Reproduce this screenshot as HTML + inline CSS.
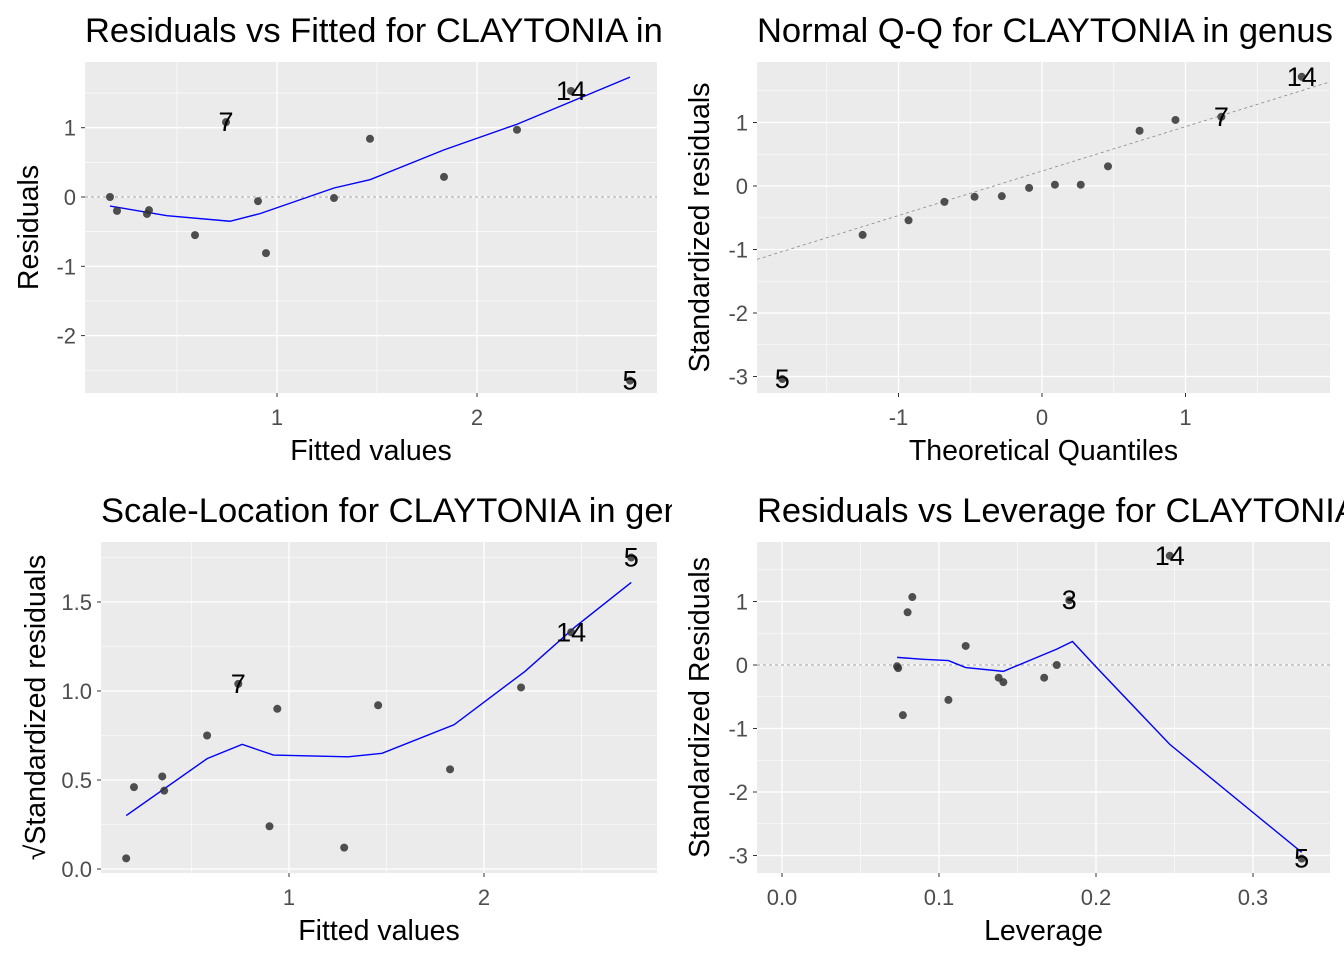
<!DOCTYPE html>
<html><head><meta charset="utf-8"><style>
html,body{margin:0;padding:0;background:#fff;}
svg{display:block;font-family:"Liberation Sans",sans-serif;}
</style></head><body>
<svg id="c" width="1344" height="960" viewBox="0 0 1344 960">
<defs>
<clipPath id="cl0"><rect x="0" y="0" width="672" height="480"/></clipPath>
<clipPath id="cl1"><rect x="672" y="0" width="672" height="480"/></clipPath>
<clipPath id="cl2"><rect x="0" y="480" width="672" height="480"/></clipPath>
<clipPath id="cl3"><rect x="672" y="480" width="672" height="480"/></clipPath>
</defs>
</svg>
<script>
// Panel 1: Residuals vs Fitted
const rvfFitted = [0.165,0.2,0.35,0.36,0.59,0.745,0.905,0.945,1.285,1.465,1.835,2.2,2.47,2.765];
const rvfResid = [0,-0.2,-0.245,-0.19,-0.55,1.08,-0.06,-0.81,-0.015,0.84,0.29,0.97,1.53,-2.65];
const rvfSmoothX = [0.165,0.45,0.765,0.915,1.285,1.465,1.835,2.2,2.765];
const rvfSmoothY = [-0.13,-0.27,-0.35,-0.24,0.13,0.25,0.68,1.05,1.73];
const rvfLabels = [[5,'7'],[12,'14'],[13,'5']];
// Panel 2: Normal Q-Q
const qqTheo = [-1.81,-1.25,-0.93,-0.68,-0.47,-0.28,-0.09,0.09,0.27,0.46,0.68,0.93,1.25,1.81];
const qqStd = [-3.04,-0.77,-0.54,-0.25,-0.17,-0.16,-0.03,0.02,0.02,0.31,0.87,1.04,1.09,1.72];
const qqLineSlope = 0.70, qqLineIntercept = 0.235;
const qqLabels = [[0,'5'],[12,'7'],[13,'14']];
// Panel 3: Scale-Location
const slFitted = [0.165,0.205,0.35,0.36,0.58,0.74,0.9,0.94,1.283,1.457,1.826,2.19,2.447,2.755];
const slSqrt = [0.06,0.46,0.52,0.44,0.75,1.04,0.24,0.90,0.12,0.92,0.56,1.02,1.33,1.75];
const slSmoothX = [0.165,0.58,0.76,0.92,1.303,1.477,1.846,2.21,2.467,2.755];
const slSmoothY = [0.30,0.62,0.70,0.64,0.63,0.65,0.81,1.11,1.36,1.61];
const slLabels = [[5,'7'],[12,'14'],[13,'5']];
// Panel 4: Residuals vs Leverage
const rlLev = [0.0733,0.074,0.077,0.080,0.083,0.106,0.117,0.138,0.141,0.167,0.175,0.183,0.247,0.331];
const rlStd = [-0.02,-0.05,-0.79,0.83,1.07,-0.55,0.30,-0.20,-0.27,-0.20,0.0,1.02,1.72,-3.05];
const rlSmoothX = [0.0733,0.09,0.106,0.117,0.141,0.175,0.185,0.2,0.247,0.331];
const rlSmoothY = [0.12,0.09,0.07,-0.04,-0.10,0.25,0.37,-0.03,-1.25,-2.95];
const rlLabels = [[11,'3'],[12,'14'],[13,'5']];

const NS='http://www.w3.org/2000/svg';
const svg=document.getElementById('c');
function mk(tag,attrs,parent){const e=document.createElementNS(NS,tag);for(const k in attrs)e.setAttribute(k,attrs[k]);(parent||svg).appendChild(e);return e;}

function panel(o){
  const g=mk('g',{'clip-path':'url(#'+o.clip+')'});
  
  
  const sx=v=>o.px0+(v-o.xv0)*o.kx, sy=v=>o.py0-(v-o.yv0)*o.ky;
  const bg=mk('rect',{x:o.L,y:o.T,width:o.R-o.L,height:o.B-o.T,fill:'#ebebeb'},g);
  
  
  o.xminor.forEach(v=>mk('line',{x1:sx(v),x2:sx(v),y1:o.T,y2:o.B,stroke:'#fff','stroke-width':0.6},g));
  o.yminor.forEach(v=>mk('line',{x1:o.L,x2:o.R,y1:sy(v),y2:sy(v),stroke:'#fff','stroke-width':0.6},g));
  o.xt.forEach(v=>mk('line',{x1:sx(v),x2:sx(v),y1:o.T,y2:o.B,stroke:'#fff','stroke-width':1.3},g));
  o.yt.forEach(v=>mk('line',{x1:o.L,x2:o.R,y1:sy(v),y2:sy(v),stroke:'#fff','stroke-width':1.3},g));
  o.xt.forEach((v,i)=>{mk('line',{x1:sx(v),x2:sx(v),y1:o.B,y2:o.B+4,stroke:'#333','stroke-width':1},g);
    const t=mk('text',{x:sx(v),y:o.B+32,'text-anchor':'middle','font-size':22,fill:'#4d4d4d'},g);t.textContent=o.xtl[i];
    
    });
  o.yt.forEach((v,i)=>{mk('line',{x1:o.L-4,x2:o.L,y1:sy(v),y2:sy(v),stroke:'#333','stroke-width':1},g);
    const t=mk('text',{x:o.L-9,y:sy(v)+8,'text-anchor':'end','font-size':22,fill:'#4d4d4d'},g);t.textContent=o.ytl[i];
    
    });
  const pg=mk('g',{'clip-path':'url(#'+o.clip+')'},g);
  if(o.hline!==undefined) mk('line',{x1:o.L,x2:o.R,y1:sy(o.hline),y2:sy(o.hline),stroke:'#888','stroke-width':0.8,'stroke-dasharray':'3,3'},pg);
  if(o.abline){const [a,b]=o.abline;const x0=(o.L-o.px0)/o.kx+o.xv0,x1=(o.R-o.px0)/o.kx+o.xv0;
    mk('line',{x1:o.L,x2:o.R,y1:sy(a+b*x0),y2:sy(a+b*x1),stroke:'#888','stroke-width':0.8,'stroke-dasharray':'3,3'},pg);}
  if(o.sx){const d=o.sx.map((v,i)=>(i?'L':'M')+sx(v)+','+sy(o.sy[i])).join('');
    const p=mk('path',{d:d,fill:'none',stroke:'#0000ff','stroke-width':1.4},pg);
    
    }
  o.x.forEach((v,i)=>{const c=mk('circle',{cx:sx(v),cy:sy(o.y[i]),r:4,fill:'#333','fill-opacity':0.85},pg);
    
    });
  o.lab.forEach(([i,s])=>{const t=mk('text',{x:sx(o.x[i]),y:sy(o.y[i])+9,'text-anchor':'middle','font-size':27,fill:'#000'},pg);t.textContent=s;
    
    });
  const tt=mk('text',{x:o.L,y:o.T-20,'font-size':34.5,fill:'#000'},g);tt.textContent=o.title;
  
  
  const xl=mk('text',{x:(o.L+o.R)/2,y:o.B+67,'text-anchor':'middle','font-size':28.5,fill:'#000'},g);xl.textContent=o.xlab;
  
  
  const yc=(o.T+o.B)/2;
  const yl=mk('text',{x:o.ylx,y:yc,'text-anchor':'middle','font-size':28.5,fill:'#000',transform:'rotate(-90 '+o.ylx+' '+yc+')'},g);yl.textContent=o.ylab;
  
  
}

panel({name:'residuals-vs-fitted',clip:'cl0',L:85,R:657,T:62,B:393,px0:277,xv0:1,kx:200,py0:197,yv0:0,ky:69.3,
 xt:[1,2],xtl:['1','2'],yt:[1,0,-1,-2],ytl:['1','0','-1','-2'],xminor:[0.5,1.5,2.5],yminor:[1.5,0.5,-0.5,-1.5,-2.5],
 hline:0,sx:rvfSmoothX,sy:rvfSmoothY,x:rvfFitted,y:rvfResid,lab:rvfLabels,
 title:'Residuals vs Fitted for CLAYTONIA in genus',xlab:'Fitted values',ylab:'Residuals',ylx:38});
panel({name:'normal-qq',clip:'cl1',L:757,R:1330,T:62,B:393,px0:1042,xv0:0,kx:143.5,py0:186,yv0:0,ky:63.5,
 xt:[-1,0,1],xtl:['-1','0','1'],yt:[1,0,-1,-2,-3],ytl:['1','0','-1','-2','-3'],xminor:[-1.5,-0.5,0.5,1.5],yminor:[1.5,0.5,-0.5,-1.5,-2.5],
 abline:[qqLineIntercept,qqLineSlope],x:qqTheo,y:qqStd,lab:qqLabels,
 title:'Normal Q-Q for CLAYTONIA in genus',xlab:'Theoretical Quantiles',ylab:'Standardized residuals',ylx:709});
panel({name:'scale-location',clip:'cl2',L:101,R:657,T:542,B:873,px0:289,xv0:1,kx:195,py0:869,yv0:0,ky:178,
 xt:[1,2],xtl:['1','2'],yt:[0,0.5,1,1.5],ytl:['0.0','0.5','1.0','1.5'],xminor:[0.5,1.5,2.5],yminor:[0.25,0.75,1.25,1.75],
 sx:slSmoothX,sy:slSmoothY,x:slFitted,y:slSqrt,lab:slLabels,
 title:'Scale-Location for CLAYTONIA in genus',xlab:'Fitted values',ylab:'√Standardized residuals',ylx:45});
panel({name:'residuals-vs-leverage',clip:'cl3',L:757,R:1330,T:542,B:873,px0:782,xv0:0,kx:1570,py0:665,yv0:0,ky:63.5,
 xt:[0,0.1,0.2,0.3],xtl:['0.0','0.1','0.2','0.3'],yt:[1,0,-1,-2,-3],ytl:['1','0','-1','-2','-3'],xminor:[0.05,0.15,0.25],yminor:[1.5,0.5,-0.5,-1.5,-2.5],
 hline:0,sx:rlSmoothX,sy:rlSmoothY,x:rlLev,y:rlStd,lab:rlLabels,
 title:'Residuals vs Leverage for CLAYTONIA in genus',xlab:'Leverage',ylab:'Standardized Residuals',ylx:709});
</script>
</body></html>
